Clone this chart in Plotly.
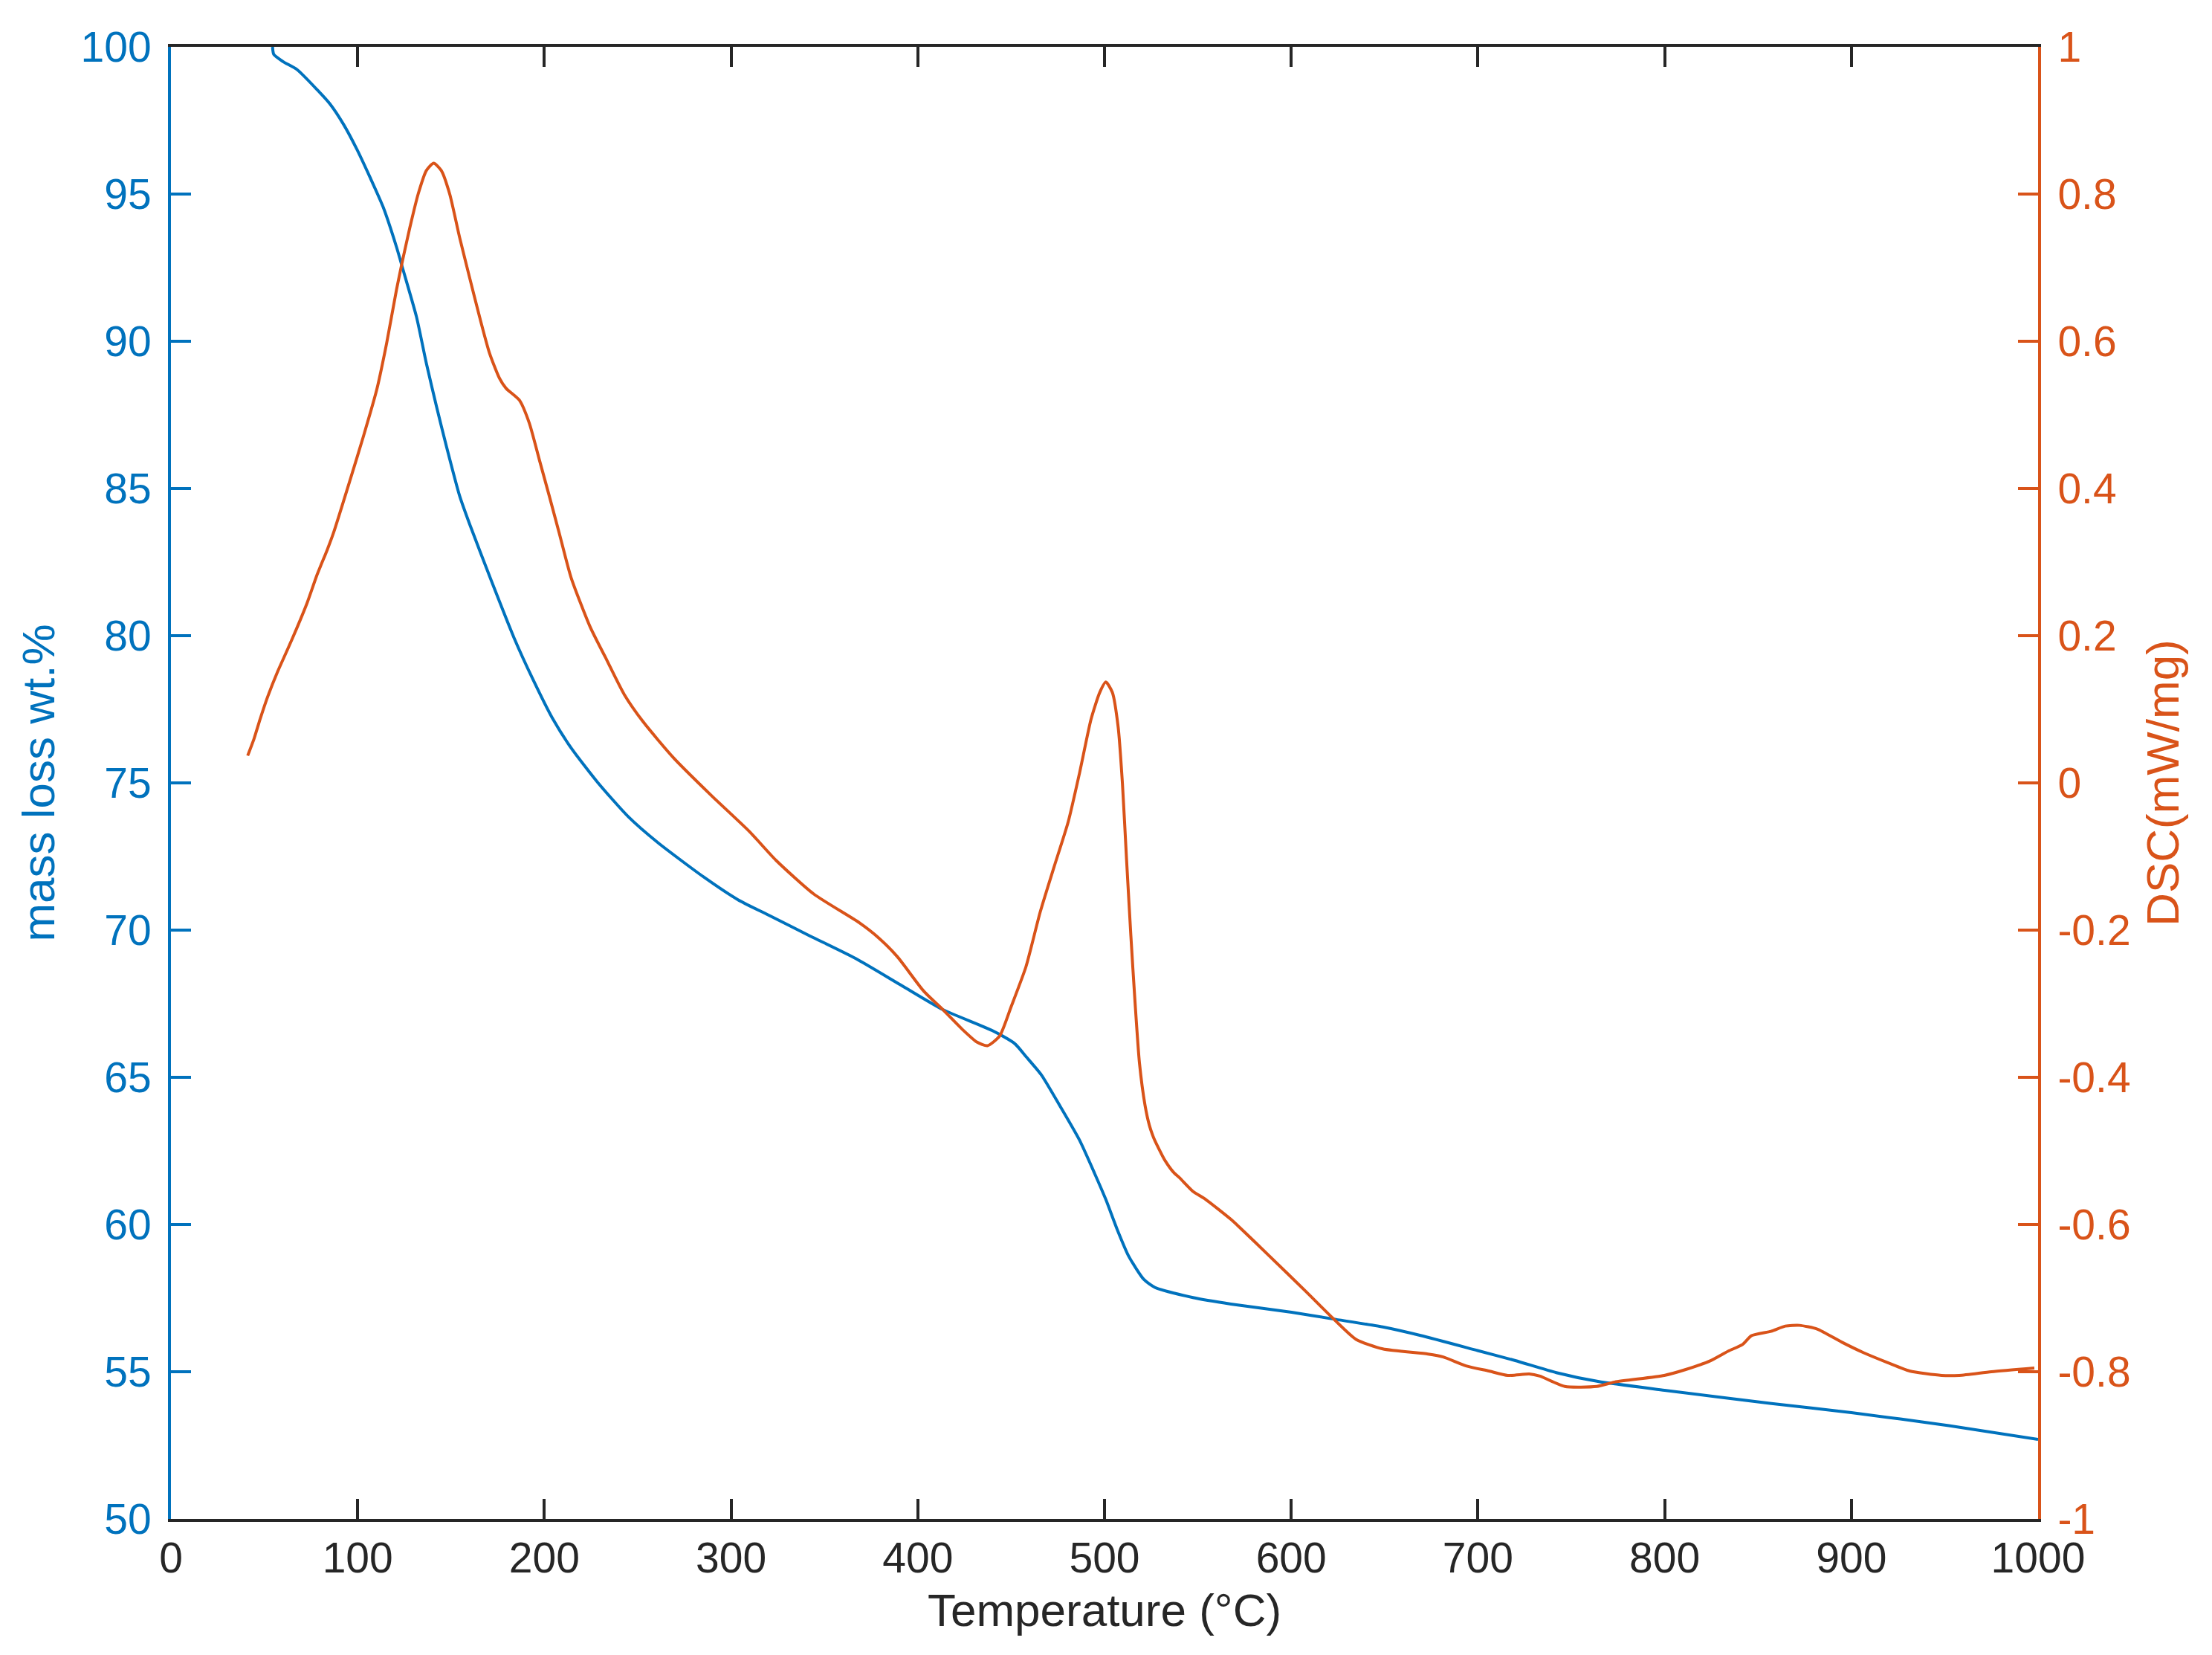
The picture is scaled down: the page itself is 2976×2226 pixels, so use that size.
import plotly.graph_objects as go

# ---- data ----
mass_T = [54.4, 55.1, 60, 67.5, 78.2, 85.3, 92.4, 99.5, 106.6, 113.7, 120.8, 124.4, 131.5,
          136.8, 142.2, 147.5, 154.6, 159.9, 171.7, 183.8, 194, 204.2, 214.3, 228.5, 244.8,
          261, 285.4, 303.7, 320, 342.3, 366.6, 391, 413.4, 439.8, 452, 458, 466.2, 476.3,
          486.5, 494.6, 500.7, 506.8, 512.9, 521, 527.1, 547.4, 567.7, 600.2, 622.6, 649,
          669.3, 699.8, 720, 742, 764.3, 800, 857.2, 900, 952.2, 1000]
mass_wt = [100.0, 99.74, 99.5, 99.23, 98.55, 98.05, 97.37, 96.53, 95.57, 94.55, 93.2, 92.41,
           90.83, 89.25, 87.79, 86.44, 84.75, 83.8, 81.85, 79.92, 78.5, 77.21, 76.19, 75.02,
           73.86, 72.96, 71.8, 71.03, 70.51, 69.8, 69.04, 68.13, 67.3, 66.59, 66.14, 65.7,
           65.08, 64.01, 62.88, 61.75, 60.85, 59.83, 58.93, 58.14, 57.86, 57.52, 57.3, 57.02,
           56.79, 56.52, 56.23, 55.72, 55.38, 54.97, 54.67, 54.37, 53.92, 53.61, 53.17, 52.7]

dsc_T = [41.1, 44.5, 47.8, 51.8, 57.1, 62.4, 67.7, 73, 78.3, 83.6, 87.1, 96, 103.1, 110.2,
         115.5, 120.8, 124.4, 128, 132.4, 136.8, 140.7, 144.8, 149.3, 154.6, 159.9, 165.3,
         170.6, 175.9, 179.5, 186.6, 191.9, 197.3, 202.6, 207.9, 214.3, 224.5, 232.6, 242.8,
         252.9, 269.2, 289.4, 309.8, 324, 344.3, 368.7, 378.8, 389, 403.2, 413.4, 423.5,
         431.6, 437.3, 443.8, 450, 457.9, 465.6, 473, 480.6, 486.7, 492.8, 497.4, 500.7,
         504.2, 507.3, 509.6, 511.8, 514.1, 516.4, 518.7, 521.7, 524, 526.3, 529.1, 532.4,
         537.3, 540, 547.4, 553.7, 567.7, 572, 588, 608.3, 622.6, 634.7, 649, 673.3, 681.4,
         693.6, 705.8, 716, 727.5, 733.2, 746.5, 763.7, 773.2, 799.8, 811.3, 824.6, 834.1,
         841.7, 846.5, 857, 864.6, 872.2, 881.7, 895, 906.4, 919.8, 931.2, 948.3, 957.8,
         975, 998]
dsc_val = [0.037, 0.06, 0.087, 0.117, 0.151, 0.181, 0.212, 0.245, 0.283, 0.316, 0.34, 0.412,
           0.471, 0.534, 0.597, 0.67, 0.714, 0.755, 0.8, 0.832, 0.842, 0.832, 0.8, 0.741,
           0.687, 0.633, 0.584, 0.55, 0.536, 0.52, 0.489, 0.439, 0.39, 0.34, 0.279, 0.212,
           0.171, 0.12, 0.083, 0.034, -0.017, -0.066, -0.105, -0.151, -0.19, -0.21, -0.236,
           -0.283, -0.308, -0.334, -0.352, -0.357, -0.344, -0.304, -0.25, -0.175, -0.114,
           -0.0525, 0.0143, 0.0866, 0.1226, 0.137, 0.123, 0.076, -0.001, -0.104, -0.207,
           -0.3, -0.38, -0.438, -0.465, -0.482, -0.497, -0.513, -0.53, -0.536, -0.555,
           -0.565, -0.593, -0.603, -0.642, -0.692, -0.728, -0.756, -0.769, -0.776, -0.78,
           -0.792, -0.799, -0.805, -0.803, -0.806, -0.82, -0.82, -0.814, -0.805, -0.797,
           -0.785, -0.772, -0.763, -0.751, -0.745, -0.738, -0.737, -0.742, -0.76, -0.774,
           -0.788, -0.799, -0.805, -0.805, -0.8, -0.795]

x_ticks = [0, 100, 200, 300, 400, 500, 600, 700, 800, 900, 1000]
mass_ticks = [50, 55, 60, 65, 70, 75, 80, 85, 90, 95, 100]
dsc_ticks = [-1, -0.8, -0.6, -0.4, -0.2, 0, 0.2, 0.4, 0.6, 0.8, 1]
dsc_tick_text = ["-1", "-0.8", "-0.6", "-0.4", "-0.2", "0", "0.2", "0.4", "0.6", "0.8", "1"]

BLUE = "#0072BD"
ORANGE = "#D95319"
DARK = "#262626"
FONT = "Liberation Sans, Arial, Helvetica, sans-serif"

fig = go.Figure()
fig.add_trace(go.Scatter(x=mass_T, y=mass_wt, mode="lines",
                         line=dict(color=BLUE, width=4, shape="spline", smoothing=0.6),
                         yaxis="y", showlegend=False))
fig.add_trace(go.Scatter(x=dsc_T, y=dsc_val, mode="lines",
                         line=dict(color=ORANGE, width=4, shape="spline", smoothing=0.6),
                         yaxis="y2", showlegend=False))

fig.update_layout(
    width=2976, height=2226,
    margin=dict(l=222, r=242, t=55, b=191),
    paper_bgcolor="white", plot_bgcolor="white",
    font=dict(family=FONT, size=57, color=DARK),
    xaxis=dict(range=[0, 1000], tickvals=x_ticks, ticks="inside", ticklen=27, tickwidth=4,
               tickcolor=DARK, showline=True, linecolor=DARK, linewidth=4, mirror="ticks",
               showgrid=False, zeroline=False, tickfont=dict(size=57, color=DARK),
               ticklabelstandoff=0,
               title=dict(text="Temperature (°C)", font=dict(size=62, color=DARK), standoff=18)),
    yaxis=dict(range=[50, 100], tickvals=mass_ticks, ticks="inside", ticklen=27, tickwidth=4,
               tickcolor=BLUE, showline=True, linecolor=BLUE, linewidth=4,
               showgrid=False, zeroline=False, tickfont=dict(size=57, color=BLUE),
               ticklabelstandoff=11,
               title=dict(text="mass loss wt.%", font=dict(size=62, color=BLUE), standoff=16)),
    yaxis2=dict(range=[-1, 1], tickvals=dsc_ticks, ticktext=dsc_tick_text, overlaying="y",
                side="right", anchor="x", ticks="inside", ticklen=27, tickwidth=4,
                tickcolor=ORANGE, showline=True, linecolor=ORANGE, linewidth=4,
                showgrid=False, zeroline=False, tickfont=dict(size=57, color=ORANGE),
                ticklabelstandoff=11,
                title=dict(text="DSC(mW/mg)", font=dict(size=62, color=ORANGE), standoff=23)),
)

fig.write_html("out.html")
